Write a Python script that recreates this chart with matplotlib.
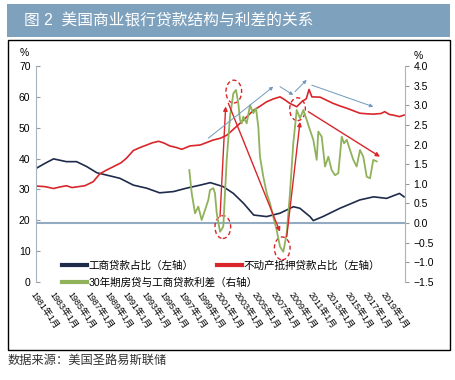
import matplotlib
matplotlib.use("Agg")
import matplotlib.pyplot as plt
import matplotlib.transforms as mtransforms
from matplotlib.lines import Line2D
from matplotlib.patches import Ellipse, Rectangle

plt.rcParams["font.family"] = ["Liberation Sans", "Noto Sans CJK SC", "DejaVu Sans"]

# C&I loan share (left axis, %)
ci_years = [1981.0, 1982.0, 1982.9, 1984.3, 1985.4, 1986.5, 1987.6, 1989.0, 1990.1, 1991.55,
            1993.0, 1994.4, 1995.9, 1997.3, 1998.8, 1999.9, 2001.3, 2002.4, 2003.5, 2004.6,
            2006.0, 2007.45, 2008.9, 2009.6, 2010.7, 2011.06, 2012.1, 2013.95, 2016.1, 2017.6,
            2019.0, 2020.4, 2020.9]
ci_share = [36.8, 38.5, 39.9, 39.0, 39.0, 37.4, 35.4, 34.4, 33.6, 31.4,
            30.4, 28.9, 29.3, 30.4, 31.4, 32.2, 30.9, 28.7, 25.5, 21.7,
            21.2, 22.3, 24.4, 23.9, 21.2, 19.9, 21.2, 23.9, 26.6, 27.6,
            27.1, 28.7, 27.6]

# real estate loan share (left axis, %)
re_years = [1981.0, 1982.0, 1982.9, 1983.6, 1984.3, 1984.9, 1985.6, 1986.3, 1987.2, 1987.9,
            1988.6, 1989.4, 1990.2, 1990.8, 1991.55, 1992.3, 1993.0, 1993.6, 1994.3, 1994.9,
            1995.5, 1996.2, 1996.8, 1997.7, 1998.8, 1999.5, 2000.2, 2001.0, 2001.7, 2002.4,
            2003.1, 2003.8, 2004.6, 2005.3, 2006.0, 2006.7, 2007.45, 2008.0, 2008.5, 2009.26,
            2009.8, 2010.3, 2010.6, 2010.9, 2011.8, 2012.5, 2013.2, 2014.0, 2014.7, 2015.4,
            2016.1, 2016.9, 2017.6, 2018.4, 2018.8, 2019.3, 2019.7, 2020.4, 2020.9]
re_share = [31.1, 30.9, 30.3, 30.8, 31.2, 30.6, 30.9, 31.2, 32.5, 35.0,
            36.2, 37.4, 38.6, 40.1, 42.6, 43.6, 44.4, 45.1, 45.6, 45.0,
            44.1, 43.6, 43.0, 44.1, 44.4, 45.2, 46.0, 46.6, 47.6, 49.5,
            51.4, 53.4, 55.7, 57.0, 58.4, 59.3, 60.0, 59.0, 57.9, 56.8,
            58.4, 59.4, 62.4, 60.0, 59.9, 58.9, 57.9, 57.0, 56.3, 55.5,
            54.7, 54.5, 54.4, 54.6, 55.2, 54.3, 54.1, 53.6, 54.1]

# 30y mortgage minus C&I loan spread (right axis, %)
sp_years = [1997.62, 1997.88, 1998.24, 1998.59, 1998.96, 1999.32, 1999.68, 1999.86, 2000.22, 2000.40,
            2000.59, 2000.95, 2001.30, 2001.67, 2002.03, 2002.39, 2002.68, 2002.93, 2003.11, 2003.30,
            2003.47, 2003.84, 2004.20, 2004.56, 2004.85, 2005.10, 2005.28, 2005.64, 2006.01, 2006.37,
            2006.72, 2007.09, 2007.45, 2007.81, 2008.18, 2008.53, 2008.89, 2009.26, 2009.62, 2009.98,
            2010.34, 2010.70, 2011.06, 2011.43, 2011.60, 2011.97, 2012.33, 2012.69, 2013.05, 2013.41,
            2013.77, 2014.14, 2014.39, 2014.68, 2015.04, 2015.40, 2015.76, 2016.12, 2016.48, 2016.85,
            2017.21, 2017.56, 2017.93]
spread = [1.35, 0.76, 0.25, 0.42, 0.08, 0.33, 0.59, 0.84, 0.89, 0.76,
          0.25, -0.22, -0.09, 1.60, 2.71, 3.30, 3.39, 3.05, 2.63, 2.54,
          2.71, 2.54, 3.00, 2.80, 2.92, 2.45, 1.69, 1.18, 0.76, 0.50,
          0.16, -0.18, -0.60, -0.73, -0.26, 0.76, 2.03, 2.88, 2.67, 2.88,
          2.63, 2.37, 2.12, 1.61, 2.33, 2.20, 1.44, 1.69, 1.35, 1.22,
          1.27, 2.20, 2.03, 2.12, 1.86, 1.61, 1.44, 1.86, 1.69, 1.18,
          1.14, 1.61, 1.57]

tick_years = list(range(1981, 2020, 2))
tick_labels = [f"{y}年1月" for y in tick_years]

# hand-drawn annotations, in (year, left-axis %) units
circles = [(2002.44, 61.7), (2001.25, 17.8), (2007.69, 10.9), (2009.35, 56.0)]
red_arrows = [((2000.95, 21.2), (2001.56, 56.9)),
              ((2001.85, 57.9), (2007.45, 16.3)),
              ((2008.18, 14.7), (2009.62, 51.9)),
              ((2010.52, 55.2), (2018.29, 40.6))]
blue_arrows = [((1999.68, 46.6), (2006.72, 63.3)),
               ((2007.45, 63.3), (2008.89, 60.6)),
               ((2009.08, 61.7), (2010.34, 65.5)),
               ((2010.89, 63.8), (2017.56, 56.8))]

navy = "#1e2b4a"
red = "#d8262b"
green = "#8fb25a"
zero_col = "#93aac0"

fig = plt.figure(figsize=(4.56, 3.8), dpi=100)

# title bar and frame
fig.patches.append(Rectangle((7/456, 1-37/380), 443/456, 33/380, transform=fig.transFigure,
                             facecolor="#7ea1be", edgecolor="none"))
fig.text(24/456, 1-21/380, "图 2  美国商业银行贷款结构与利差的关系", color="white",
         fontsize=11.3, va="center", ha="left")
fig.patches.append(Rectangle((8/456, 1-350/380), 442/456, 310.5/380, transform=fig.transFigure,
                             facecolor="none", edgecolor="black", lw=1))
fig.text(8/456, 1-361/380, "数据来源：美国圣路易斯联储", color="#333333", fontsize=8.8,
         va="center", ha="left")

ax = fig.add_axes([36/456, 1-282/380, 369/456, 216/380])
ax2 = ax.twinx()

ax.plot(ci_years, ci_share, color=navy, lw=1.2)
ax.plot(re_years, re_share, color=red, lw=1.2)
ax2.plot(sp_years, spread, color=green, lw=1.3)
ax2.axhline(0, color=zero_col, lw=1.5, zorder=0)

ax.set_xlim(1981, 2021)
ax.set_ylim(0, 70)
ax.set_yticks(range(0, 71, 10))
ax2.set_ylim(-1.5, 4.0)
ax2.set_yticks([-1.5 + 0.5 * i for i in range(12)])
ax2.set_yticklabels([f"{-1.5 + 0.5 * i:.1f}".replace("-", "\u2212") for i in range(12)])

ax.set_xticks(tick_years)
ax.set_xticklabels(tick_labels, rotation=-55, ha="left", va="top", rotation_mode="anchor",
                   fontsize=6.4)
shift = mtransforms.ScaledTranslation(5/100, 0, fig.dpi_scale_trans)
for lab in ax.get_xticklabels():
    lab.set_transform(lab.get_transform() + shift)
ax.tick_params(axis="x", length=0, pad=6)
ax.tick_params(axis="y", labelsize=7.5, length=3, direction="in", pad=4, color="#999999")
ax2.tick_params(axis="y", labelsize=7.5, length=3, direction="out", pad=3, color="#999999")

for a in (ax, ax2):
    for s in ("top", "bottom"):
        a.spines[s].set_visible(False)
    a.spines["left"].set_color("#a8b4c0")
    a.spines["right"].set_color("#a8b4c0")
ax2.spines["left"].set_visible(False)
ax.spines["right"].set_visible(False)

fig.text(24/456, 1-53/380, "%", fontsize=7.5, ha="center", va="center")
fig.text(418/456, 1-56/380, "%", fontsize=7.5, ha="center", va="center")

# annotations on top of all lines
for cx, cy in circles:
    ax2.add_patch(Ellipse((cx, cy), 1.7, 7.4, transform=ax.transData, fill=False,
                          edgecolor=red, lw=1, ls=(0, (3, 2))))
for start, end in red_arrows:
    ax2.annotate("", xy=end, xytext=start, xycoords=ax.transData, textcoords=ax.transData,
                 arrowprops=dict(arrowstyle="-|>", color=red, lw=1, mutation_scale=6,
                                 shrinkA=0, shrinkB=0))
for start, end in blue_arrows:
    ax2.annotate("", xy=end, xytext=start, xycoords=ax.transData, textcoords=ax.transData,
                 arrowprops=dict(arrowstyle="-|>", color="#6f98bd", lw=0.7, mutation_scale=5,
                                 shrinkA=0, shrinkB=0))

h_ci = Line2D([], [], color=navy, lw=3)
h_re = Line2D([], [], color=red, lw=3)
h_sp = Line2D([], [], color=green, lw=3)
leg1 = ax2.legend([h_ci, h_sp], ["工商贷款占比（左轴）", "30年期房贷与工商贷款利差（右轴）"],
                  loc="upper left", bbox_to_anchor=(0.0696, 0.10), frameon=False,
                  fontsize=7.6, handlelength=2.4, handletextpad=0.15, borderpad=0,
                  borderaxespad=0, labelspacing=0.6)
ax2.add_artist(leg1)
ax2.legend([h_re], ["不动产抵押贷款占比（左轴）"], loc="upper left",
           bbox_to_anchor=(0.4897, 0.10), frameon=False, fontsize=7.6, handlelength=2.4,
           handletextpad=0.15, borderpad=0, borderaxespad=0)

fig.savefig("out.png", dpi=100)
